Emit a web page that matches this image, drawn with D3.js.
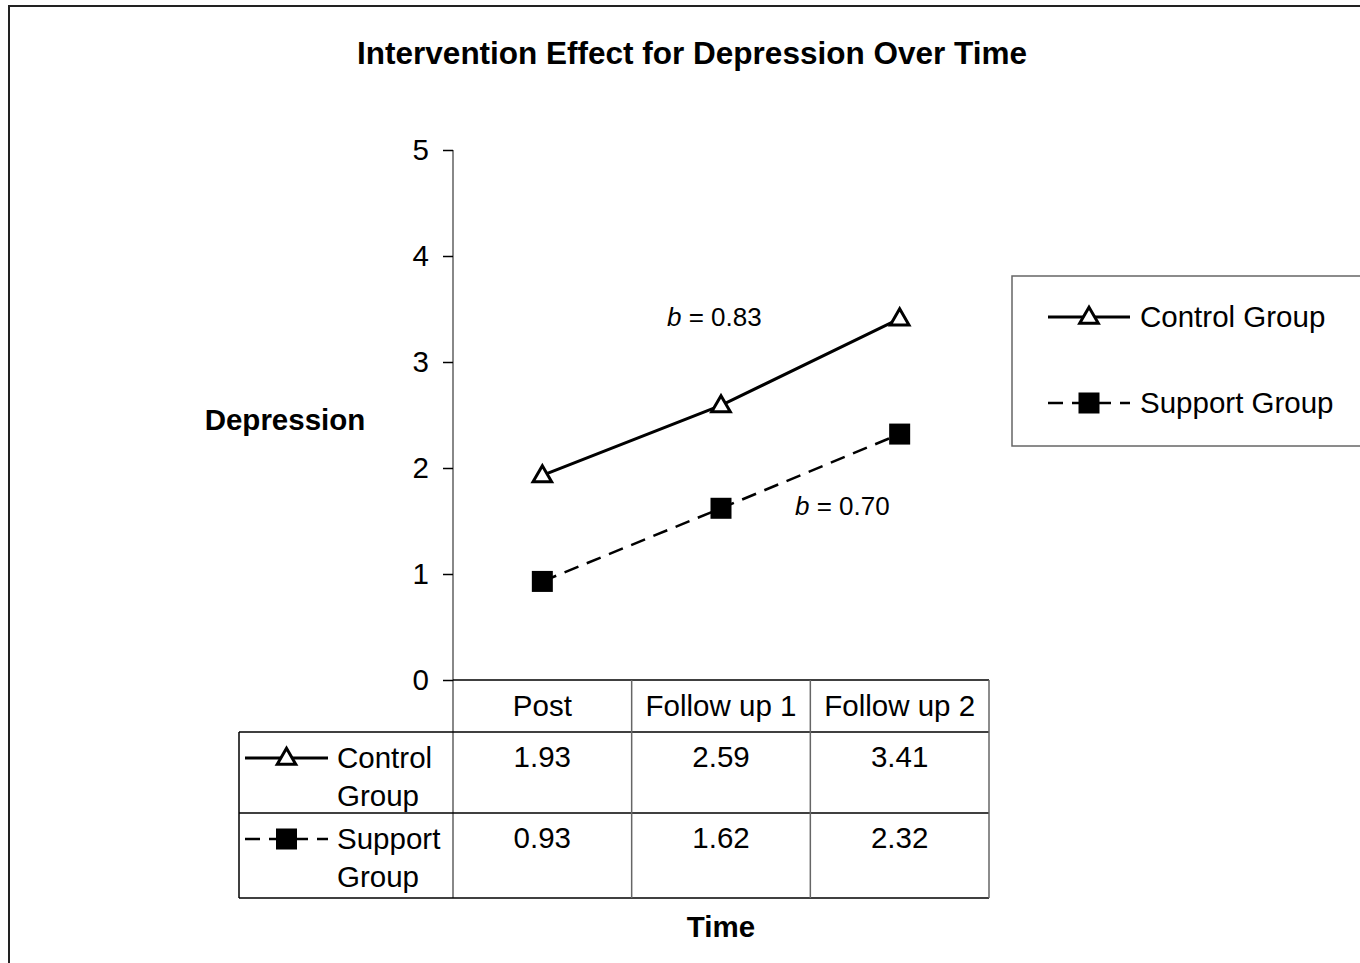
<!DOCTYPE html>
<html>
<head>
<meta charset="utf-8">
<script src="https://cdn.jsdelivr.net/npm/d3@7"></script>
<style>
  body { margin: 0; background: #fff; }
  svg { display: block; font-family: "Liberation Sans", Arial, sans-serif; }
</style>
</head>
<body>
<div id="chart"></div>
<script>
// data
const times = ['Post', 'Follow up 1', 'Follow up 2'];
const groups = ['Control Group', 'Support Group'];
const controlValues = [1.93, 2.59, 3.41];
const supportValues = [0.93, 1.62, 2.32];
const slopes = ['0.83', '0.70'];
const yTicks = [0, 1, 2, 3, 4, 5];

const W = 1360, H = 963;
const FS = 29.5;
const svg = d3.select('#chart').append('svg')
  .attr('width', W).attr('height', H);

// outer frame (right/bottom edges fall outside the picture)
svg.append('rect')
  .attr('x', 9).attr('y', 6).attr('width', W + 20).attr('height', H + 20)
  .attr('fill', 'none').attr('stroke', '#222').attr('stroke-width', 2);

svg.append('text')
  .attr('x', 692).attr('y', 64)
  .attr('text-anchor', 'middle')
  .attr('font-size', 31.5).attr('font-weight', 'bold')
  .text('Intervention Effect for Depression Over Time');

const plotLeft = 453, plotRight = 989;
const x = d3.scaleBand().domain(times).range([plotLeft, plotRight]);
const y = d3.scaleLinear().domain([0, 5]).range([680, 150]);

// y axis
const yAxis = svg.append('g')
  .attr('transform', `translate(${plotLeft},0)`)
  .call(d3.axisLeft(y).tickValues(yTicks).tickFormat(d3.format('d'))
    .tickSize(10).tickPadding(14));
yAxis.select('.domain').attr('stroke', '#888').attr('stroke-width', 2)
  .attr('d', `M0,${y(5)}V898`);
yAxis.selectAll('.tick line').attr('stroke', '#000').attr('stroke-width', 1.5);
yAxis.selectAll('.tick text').attr('font-size', FS).attr('fill', '#000')
  .attr('font-family', '"Liberation Sans", Arial, sans-serif');

svg.append('text')
  .attr('x', 285).attr('y', 430)
  .attr('text-anchor', 'middle')
  .attr('font-size', FS).attr('font-weight', 'bold')
  .text('Depression');

// data table under the plot
const tableLeft = 239;
const rowTops = [680, 732, 813, 898];
const tbl = svg.append('g');
// horizontal rules
tbl.append('line').attr('x1', plotLeft).attr('x2', plotRight)
  .attr('y1', rowTops[0]).attr('y2', rowTops[0])
  .attr('stroke', '#000').attr('stroke-width', 1.5);
rowTops.slice(1).forEach(ry => {
  tbl.append('line').attr('x1', tableLeft).attr('x2', plotRight)
    .attr('y1', ry).attr('y2', ry)
    .attr('stroke', '#000').attr('stroke-width', 1.5);
});
// vertical rules
tbl.append('line').attr('x1', tableLeft).attr('x2', tableLeft)
  .attr('y1', rowTops[1]).attr('y2', rowTops[3])
  .attr('stroke', '#000').attr('stroke-width', 1.5);
times.forEach((t, i) => {
  if (i === 0) return;
  tbl.append('line').attr('x1', x(t)).attr('x2', x(t))
    .attr('y1', rowTops[0]).attr('y2', rowTops[3])
    .attr('stroke', '#666').attr('stroke-width', 1.5);
});
tbl.append('line').attr('x1', plotRight).attr('x2', plotRight)
  .attr('y1', rowTops[0]).attr('y2', rowTops[3])
  .attr('stroke', '#666').attr('stroke-width', 1.5);

// header cells
tbl.selectAll('text.head').data(times).join('text')
  .attr('class', 'head')
  .attr('x', d => x(d) + x.bandwidth() / 2).attr('y', 716)
  .attr('text-anchor', 'middle').attr('font-size', FS)
  .text(d => d);

const rows = [controlValues, supportValues];
rows.forEach((vals, r) => {
  tbl.selectAll(null).data(vals).join('text')
    .attr('x', (d, i) => x(times[i]) + x.bandwidth() / 2)
    .attr('y', rowTops[r + 1] + 35)
    .attr('text-anchor', 'middle').attr('font-size', FS)
    .text(d => d.toFixed(2));
});

// marker helpers
const triPath = d3.symbol().type(d3.symbolTriangle).size(150)();
function drawTriangle(g, cx, cy) {
  g.append('path').attr('d', triPath)
    .attr('transform', `translate(${cx},${cy + 1})`)
    .attr('fill', '#fff').attr('stroke', '#000').attr('stroke-width', 3);
}
function drawSquare(g, cx, cy) {
  g.append('rect').attr('x', cx - 10.5).attr('y', cy - 10.5)
    .attr('width', 21).attr('height', 21).attr('fill', '#000');
}
function legendKey(g, x0, x1, cy, kind) {
  const mid = (x0 + x1) / 2;
  if (kind === 0) {
    g.append('line').attr('x1', x0).attr('x2', x1).attr('y1', cy).attr('y2', cy)
      .attr('stroke', '#000').attr('stroke-width', 3);
    drawTriangle(g, mid, cy);
  } else {
    g.append('line').attr('x1', x0).attr('x2', x1).attr('y1', cy).attr('y2', cy)
      .attr('stroke', '#000').attr('stroke-width', 2.5)
      .attr('stroke-dasharray', '15,9');
    drawSquare(g, mid, cy);
  }
}

// row labels in table
const rowLabelLines = [['Control', 'Group'], ['Support', 'Group']];
rowLabelLines.forEach((lines, r) => {
  const top = rowTops[r + 1];
  legendKey(tbl, 245, 328, top + 26, r);
  tbl.append('text').attr('x', 337).attr('y', top + 36)
    .attr('font-size', FS).text(lines[0]);
  tbl.append('text').attr('x', 337).attr('y', top + 74)
    .attr('font-size', FS).text(lines[1]);
});

// lines
const line = d3.line()
  .x((d, i) => x(times[i]) + x.bandwidth() / 2)
  .y(d => y(d));

svg.append('path').datum(supportValues)
  .attr('d', line).attr('fill', 'none')
  .attr('stroke', '#000').attr('stroke-width', 2.5)
  .attr('stroke-dasharray', '15,9');
svg.append('path').datum(controlValues)
  .attr('d', line).attr('fill', 'none')
  .attr('stroke', '#000').attr('stroke-width', 3);

const marks = svg.append('g');
controlValues.forEach((v, i) => drawTriangle(marks, x(times[i]) + x.bandwidth() / 2, y(v)));
supportValues.forEach((v, i) => drawSquare(marks, x(times[i]) + x.bandwidth() / 2, y(v)));

// slope annotations
const ann = [[667, 326, slopes[0]], [795, 515, slopes[1]]];
ann.forEach(([ax, ay, s]) => {
  const t = svg.append('text').attr('x', ax).attr('y', ay).attr('font-size', 26);
  t.append('tspan').attr('font-style', 'italic').text('b');
  t.append('tspan').text(' = ' + s);
});

svg.append('text')
  .attr('x', 721).attr('y', 937)
  .attr('text-anchor', 'middle')
  .attr('font-size', FS).attr('font-weight', 'bold')
  .text('Time');

// legend
const lg = svg.append('g');
lg.append('rect').attr('x', 1012).attr('y', 276).attr('width', 400).attr('height', 170)
  .attr('fill', '#fff').attr('stroke', '#666').attr('stroke-width', 1.5);
groups.forEach((gname, i) => {
  const cy = i === 0 ? 317 : 403;
  legendKey(lg, 1048, 1130, cy, i);
  lg.append('text').attr('x', 1140).attr('y', cy + 10)
    .attr('font-size', FS).text(gname);
});
</script>
</body>
</html>
